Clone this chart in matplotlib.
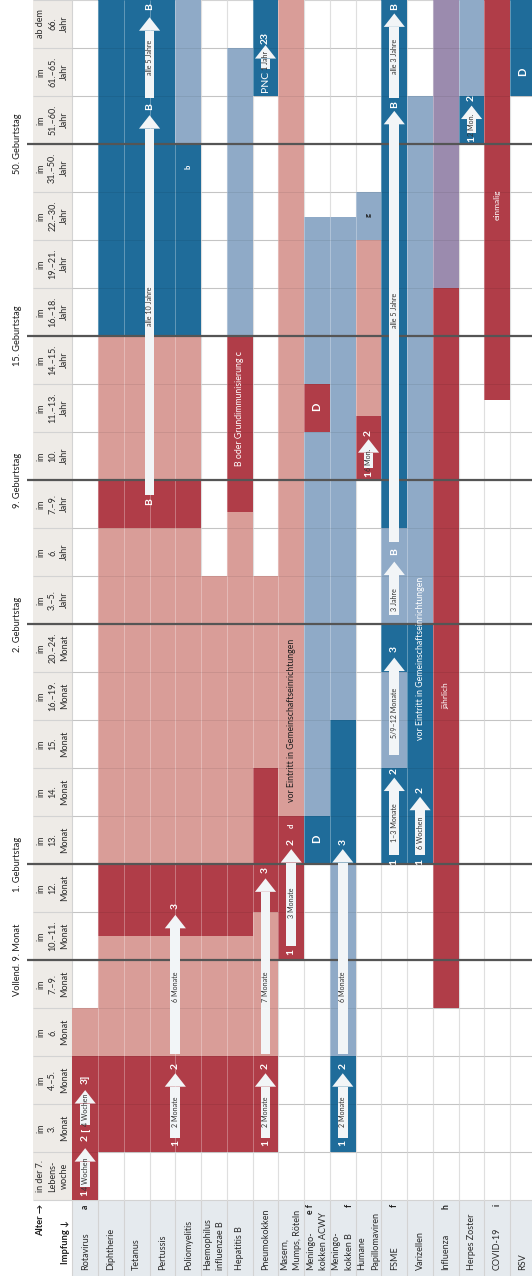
import matplotlib
matplotlib.use("Agg")
import matplotlib.pyplot as plt
from matplotlib.patches import Polygon, Rectangle

plt.rcParams['font.family'] = ['Lato', 'DejaVu Sans']

# ---- data -----------------------------------------------------------------
# age groups, bottom (youngest) to top (oldest)
age_groups = [
    "in der 7.\nLebens-\nwoche", "im\n3.\nMonat", "im\n4.–5.\nMonat", "im\n6.\nMonat",
    "im\n7.–9.\nMonat", "im\n10.–11.\nMonat", "im\n12.\nMonat", "im\n13.\nMonat",
    "im\n14.\nMonat", "im\n15.\nMonat", "im\n16.–19.\nMonat", "im\n20.–24.\nMonat",
    "im\n3.–5.\nJahr", "im\n6.\nJahr", "im\n7.–9.\nJahr", "im\n10.\nJahr",
    "im\n11.–13.\nJahr", "im\n14.–15.\nJahr", "im\n16.–18.\nJahr", "im\n19.–21.\nJahr",
    "im\n22.–30.\nJahr", "im\n31.–50.\nJahr", "im\n51.–60.\nJahr", "im\n61.–65.\nJahr",
    "ab dem\n66.\nJahr",
]

vaccines = [
    "Rotavirus", "Diphtherie", "Tetanus", "Pertussis", "Poliomyelitis",
    "Haemophilus\ninfluenzae B", "Hepatitis B", "Pneumokokken", "Masern,\nMumps, Röteln",
    "Meningo-\nkokken ACWY", "Meningo-\nkokken B", "Humane\nPapillomaviren", "FSME",
    "Varizellen", "Influenza", "Herpes Zoster", "COVID-19", "RSV",
]
# footnote letter per column and the header line it sits on
footnotes = {0: ("a", 0), 9: ("e f", 0), 10: ("f", 1), 12: ("f", 0), 14: ("h", 0), 16: ("i", 0)}

milestone_rows = [5, 7, 12, 15, 18, 22]
milestone_labels = ["Vollend. 9. Monat", "1. Geburtstag", "2. Geburtstag",
                    "9. Geburtstag", "15. Geburtstag", "50. Geburtstag"]

# (from row, to row, kind)  R dark red, r light red, B dark blue, b light blue, P purple
seg_rota = [(0, 3, "R"), (3, 4, "r")]
seg_diph = [(1, 3, "R"), (3, 5.5, "r"), (5.5, 7, "R"), (7, 14, "r"), (14, 15, "R"), (15, 18, "r"), (18, 25, "B")]
seg_tet = [(1, 3, "R"), (3, 5.5, "r"), (5.5, 7, "R"), (7, 14, "r"), (14, 15, "R"), (15, 18, "r"), (18, 25, "B")]
seg_pert = [(1, 3, "R"), (3, 5.5, "r"), (5.5, 7, "R"), (7, 14, "r"), (14, 15, "R"), (15, 18, "r"), (18, 25, "B")]
seg_polio = [(1, 3, "R"), (3, 5.5, "r"), (5.5, 7, "R"), (7, 14, "r"), (14, 15, "R"), (15, 18, "r"), (18, 22, "B"), (22, 25, "b")]
seg_hib = [(1, 3, "R"), (3, 5.5, "r"), (5.5, 7, "R"), (7, 13, "r")]
seg_hepb = [(1, 3, "R"), (3, 5.5, "r"), (5.5, 7, "R"), (7, 14.33, "r"), (14.33, 18, "R"), (18, 24, "b")]
seg_pneumo = [(1, 3, "R"), (3, 6, "r"), (6, 9, "R"), (9, 13, "r"), (23, 25, "B")]
seg_mmr = [(5, 8, "R"), (8, 25, "r")]
seg_menacwy = [(7, 8, "B"), (8, 16, "b"), (16, 17, "R"), (17, 20.48, "b")]
seg_menb = [(1, 3, "B"), (3, 7, "b"), (7, 10, "B"), (10, 20.48, "b")]
seg_hpv = [(15, 16.33, "R"), (16.33, 20, "r"), (20, 21, "b")]
seg_fsme = [(7, 9, "B"), (9, 11, "b"), (11, 12, "B"), (12, 14, "b"), (14, 25, "B")]
seg_vari = [(7, 12, "B"), (12, 23, "b")]
seg_flu = [(4, 19, "R"), (19, 25, "P")]
seg_hz = [(22, 23, "B"), (23, 25, "b")]
seg_covid = [(16.67, 25, "R")]
seg_rsv = [(23, 25, "B")]
schedule = [seg_rota, seg_diph, seg_tet, seg_pert, seg_polio, seg_hib, seg_hepb, seg_pneumo,
            seg_mmr, seg_menacwy, seg_menb, seg_hpv, seg_fsme, seg_vari, seg_flu, seg_hz,
            seg_covid, seg_rsv]

# interval arrows: (x, shaft start, tip, label, label position)
arrows = [
    (0.5, 0.28, 1.08, "4 Wochen", None), (0.5, 1.56, 2.29, "4 Wochen", 1.87),
    (4.0, 1.3, 2.64, "2 Monate", None), (4.0, 3.05, 5.94, "6 Monate", 4.45),
    (7.5, 1.3, 2.64, "2 Monate", None), (7.5, 3.05, 6.7, "7 Monate", 4.45),
    (8.5, 5.3, 7.31, "3 Monate", 6.19),
    (10.5, 1.3, 2.64, "2 Monate", None), (10.5, 3.05, 7.31, "6 Monate", 4.45),
    (11.5, 15.25, 15.85, "6 Mon.", 15.42),
    (12.5, 7.19, 8.8, "1–3 Monate", None), (12.5, 9.27, 11.3, "5/9–12 Monate", 10.15),
    (12.5, 12.19, 13.3, "3 Jahre", 12.5), (12.5, 13.7, 22.69, "alle 5 Jahre", 18.54),
    (12.5, 22.95, 24.72, "alle 3 Jahre", 23.82),
    (13.5, 7.19, 8.4, "6 Wochen", None),
    (3.0, 14.69, 22.6, "alle 10 Jahre", 18.61), (3.0, 22.95, 24.64, "alle 5 Jahre", 23.8),
    (15.5, 22.22, 22.8, "2 Mon.", 22.4),
    (7.5, 23.56, 24.06, "1 Jahr", 23.74),
]

# dose markers: (x, y, text)
doses = [
    (0.5, 0.15, "1"), (0.5, 1.3, "2"), (0.5, 1.45, "["), (0.5, 2.52, "3]"),
    (4.0, 1.18, "1"), (4.0, 2.8, "2"), (4.0, 6.12, "3"),
    (7.5, 1.18, "1"), (7.5, 2.8, "2"), (7.5, 6.87, "3"),
    (8.5, 5.17, "1"), (8.5, 7.46, "2"),
    (10.5, 1.18, "1"), (10.5, 2.8, "2"), (10.5, 7.46, "3"),
    (11.5, 15.13, "1"), (11.5, 15.97, "2"),
    (12.5, 7.05, "1"), (12.5, 8.94, "2"), (12.5, 11.47, "3"),
    (12.5, 13.5, "B"), (12.5, 22.82, "B"), (12.5, 24.87, "B"),
    (13.5, 7.05, "1"), (13.5, 8.54, "2"),
    (3.0, 14.55, "B"), (3.0, 22.78, "B"), (3.0, 24.86, "B"),
    (15.5, 22.1, "1"), (15.5, 22.95, "2"),
    (7.5, 24.2, "23"),
]

# other labels inside the grid: (x, y, text, colour, size, weight)
notes = [
    (9.5, 7.52, "D", "w", 8, "bold"), (9.5, 16.52, "D", "w", 8, "bold"), (17.5, 23.5, "D", "w", 8, "bold"),
    (8.5, 7.8, "d", "w", 5.5, "bold"), (4.5, 21.53, "b", "w", 5.5, "bold"), (11.5, 20.52, "g", "k", 5.5, "bold"),
    (7.5, 23.3, "PNC", "w", 7.5, "normal"),
    (8.5, 10.0, "vor Eintritt in Gemeinschaftseinrichtungen", "k", 6.3, "normal"),
    (13.5, 11.29, "vor Eintritt in Gemeinschaftseinrichtungen", "w", 6.3, "normal"),
    (6.5, 16.5, "B oder Grundimmunisierung c", "w", 6.3, "normal"),
    (14.5, 10.5, "jährlich", "w", 6.0, "normal"),
    (16.5, 20.73, "einmalig", "w", 6.0, "normal"),
]

# ---- style ------------------------------------------------------------------
COLORS = {"R": "#b03d48", "r": "#d99d98", "B": "#1f6c9a", "b": "#8faac7", "P": "#9b8bae"}
TEXTC = {"w": "white", "k": "#1e1e1e"}
BEIGE = "#eeebe7"
HEADER = "#e5eaee"
ARROW = "#f2f5f7"

W_PX, H_PX = 532, 1276
LEFT_PX, COL_PX, ROW_PX, HEAD_PX = 72.3, 25.76, 48.0, 76.0
LINE_DX = 0.26  # offset of the two header lines from the column centre
n_rows = len(age_groups)
n_cols = len(vaccines)

fig = plt.figure(figsize=(W_PX / 100, H_PX / 100), dpi=100)
ax = fig.add_axes([0, 0, 1, 1])
ax.set_xlim(-LEFT_PX / COL_PX, (W_PX - LEFT_PX) / COL_PX)
ax.set_ylim(-HEAD_PX / ROW_PX, n_rows)
ax.axis("off")
x_right = (W_PX - LEFT_PX) / COL_PX
x_beige = (33 - LEFT_PX) / COL_PX

# background blocks
ax.bar(x_beige / 2, n_rows, bottom=0, width=-x_beige, color=BEIGE, zorder=0)
ax.bar(x_right / 2, HEAD_PX / ROW_PX, bottom=-HEAD_PX / ROW_PX, width=x_right, color=HEADER, zorder=0)

# grey grid below the cells
ax.hlines(range(n_rows + 1), x_beige, x_right, color="#d3d3d3", lw=0.8, zorder=1)
ax.vlines(range(n_cols + 1), -HEAD_PX / ROW_PX, n_rows, color="#d3d3d3", lw=0.8, zorder=1)

# schedule cells
for c, segs in enumerate(schedule):
    for y0, y1, kind in segs:
        ax.bar(c + 0.5, y1 - y0, bottom=y0, width=1.0, color=COLORS[kind], lw=0, zorder=2)

# faint grid on top of the cells
ax.vlines(range(1, n_cols), 0, n_rows, color="white", alpha=0.3, lw=0.7, zorder=3)
ax.hlines(range(1, n_rows), 0, x_right, color="black", alpha=0.07, lw=0.7, zorder=3)

# milestone lines
ax.hlines(milestone_rows, (27 - LEFT_PX) / COL_PX, x_right, color="#555555", lw=1.6, zorder=6)
for r, lab in zip(milestone_rows, milestone_labels):
    ax.text((17 - LEFT_PX) / COL_PX, r, lab, rotation=90, ha="center", va="center",
            fontsize=6.7, color="#1e1e1e")

# age labels
for r, lab in enumerate(age_groups):
    ax.text(x_beige / 2, r + 0.5, lab, rotation=90, ha="center", va="center",
            multialignment="center", fontsize=6.5, color="#2a2a2a", linespacing=1.4)

# vaccine header, one text per line
for c, lab in enumerate(vaccines):
    lines = lab.split("\n")
    offsets = [0.0] if len(lines) == 1 else [-LINE_DX, LINE_DX]
    for line, dx in zip(lines, offsets):
        ax.text(c + 0.5 + dx, -1.45, line, rotation=90, ha="center", va="bottom",
                fontsize=6.5, color="#2a2a2a")
for c, (note, line_no) in footnotes.items():
    dx = 0.0 if "\n" not in vaccines[c] else (-LINE_DX if line_no == 0 else LINE_DX)
    ax.text(c + 0.5 + dx, -0.09, note, rotation=90, ha="center", va="top",
            fontsize=6.2, fontweight="bold", color="#1e1e1e")

ax.text((40 - LEFT_PX) / COL_PX, (1200 - 1220) / ROW_PX, "Alter →", rotation=90,
        ha="center", va="center", fontsize=6.7, fontweight="bold", color="#1e1e1e")
ax.text((65 - LEFT_PX) / COL_PX, (1200 - 1242) / ROW_PX, "Impfung ↓", rotation=90,
        ha="center", va="center", fontsize=6.7, fontweight="bold", color="#1e1e1e")

# interval arrows
SHAFT_W, HEAD_W, HEAD_H = 0.38, 0.82, 0.28
for x, y0, y1, lab, ly in arrows:
    ax.add_patch(Rectangle((x - SHAFT_W / 2, y0), SHAFT_W, y1 - HEAD_H - y0,
                           fc=ARROW, ec="none", zorder=7))
    ax.add_patch(Polygon([(x - HEAD_W / 2, y1 - HEAD_H), (x + HEAD_W / 2, y1 - HEAD_H), (x, y1)],
                         closed=True, fc=ARROW, ec="none", zorder=7))
    if ly is None:
        ly = (y0 + y1 - HEAD_H) / 2
    ax.text(x, ly, lab, rotation=90, ha="center", va="center", fontsize=5.1,
            color="#333333", zorder=8)

for x, y, t in doses:
    ax.text(x, y, t, rotation=90, ha="center", va="center", fontsize=7.5,
            fontweight="bold", color="white", zorder=8)

for x, y, t, col, size, weight in notes:
    ax.text(x, y, t, rotation=90, ha="center", va="center", fontsize=size,
            fontweight=weight, color=TEXTC[col], zorder=8)

fig.savefig("out.png", dpi=100)
